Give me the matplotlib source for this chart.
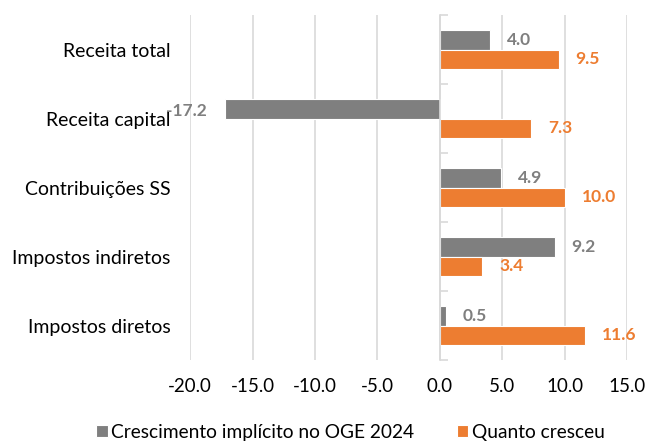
import numpy as np
import matplotlib
matplotlib.use("Agg")
import matplotlib.pyplot as plt
from matplotlib.ticker import FormatStrFormatter, FixedLocator

plt.rcParams['font.family'] = ['Lato', 'DejaVu Sans']

categories = ["Receita total", "Receita capital", "Contribuições SS",
              "Impostos indiretos", "Impostos diretos"]
implicito = [4.0, -17.2, 4.9, 9.2, 0.5]
cresceu = [9.5, 7.3, 10.0, 3.4, 11.6]
series_names = ["Crescimento implícito no OGE 2024", "Quanto cresceu"]

gray = "#7f7f7f"
orange = "#ed7d31"
grid_col = "#d9d9d9"

fig = plt.figure(figsize=(6.49, 4.41), dpi=100)
ax = fig.add_axes([0.2928, 0.1837, 0.674, 0.782])

y = np.arange(len(categories))
h = 0.285
b1 = ax.barh(y - h / 2, implicito, height=h, color=gray, edgecolor="white",
             linewidth=0.8, label=series_names[0], zorder=3)
b2 = ax.barh(y + h / 2, cresceu, height=h, color=orange, edgecolor="white",
             linewidth=0.8, label=series_names[1], zorder=3)

# value labels: right of positive bars, left of negative ones
for bars, vals, col in [(b1, implicito, gray), (b2, cresceu, orange)]:
    for bar, v in zip(bars, vals):
        yc = bar.get_y() + bar.get_height() / 2
        if v >= 0:
            ax.annotate(f"{v:.1f}", (v, yc), xytext=(12, 0), textcoords="offset points",
                        ha="left", va="center", color=col, fontsize=12.5,
                        fontweight="bold")
        else:
            ax.annotate(f"{v:.1f}", (v, yc), xytext=(-13, -1.5), textcoords="offset points",
                        ha="right", va="center", color=col, fontsize=12.5,
                        fontweight="bold")

ax.set_xlim(-20, 15)
ax.set_ylim(len(categories) - 0.5, -0.5)
ax.set_xticks(np.arange(-20, 16, 5))
ax.xaxis.set_major_formatter(FormatStrFormatter("%.1f"))
ax.set_yticks(y)
ax.set_yticklabels(categories)
ax.yaxis.set_minor_locator(FixedLocator(np.arange(-0.5, len(categories), 1)))

ax.grid(axis="x", color=grid_col, linewidth=1.2, zorder=0)
for s in ["top", "bottom", "left"]:
    ax.spines[s].set_visible(False)
# category axis sits at x = 0
ax.spines["right"].set_position(("data", 0))
ax.spines["right"].set_color(grid_col)
ax.spines["right"].set_linewidth(1.2)
ax.spines["right"].set_zorder(4)

ax.tick_params(axis="x", length=0, labelsize=13.5, pad=13)
ax.tick_params(axis="y", which="major", length=0, labelsize=14, pad=14,
               left=False, right=False)
ax.tick_params(axis="y", which="minor", left=False, right=True, length=6,
               width=1.2, color=grid_col, direction="out")

ax.legend(loc="center", bbox_to_anchor=(0.367, -0.21), ncol=2, frameon=False,
          fontsize=13.8, handlelength=0.6, handleheight=0.6, handletextpad=0.2,
          columnspacing=2.2, borderaxespad=0, borderpad=0)

fig.savefig("out.png", dpi=100)
